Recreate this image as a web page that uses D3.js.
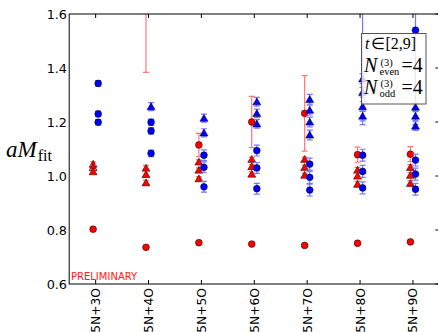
<!DOCTYPE html>
<html>
<head>
<meta charset="utf-8">
<script src="https://cdn.jsdelivr.net/npm/d3@7"></script>
<style>
  html, body { margin: 0; padding: 0; background: #fff; }
  svg { display: block; }
</style>
</head>
<body>
<div id="chart"></div>
<script>
// categories on the x axis
const categories = ["5N+3O", "5N+4O", "5N+5O", "5N+6O", "5N+7O", "5N+8O", "5N+9O"];
const yTicks = [0.6, 0.8, 1.0, 1.2, 1.4, 1.6];

// red circles (lowest level and excited level)
const redLow = [0.803, 0.736, 0.753, 0.748, 0.743, 0.751, 0.756];
const redLowErr = [0.004, 0.004, 0.004, 0.004, 0.004, 0.005, 0.005];
const redHigh = [null, 1.72, 1.115, 1.20, 1.232, 1.079, 1.081];
const redHighErr = [null, 0.336, 0.043, 0.095, 0.14, 0.028, 0.028];

// red triangles
const redTri1 = [1.044, 1.029, 1.052, 1.062, 1.062, 1.022, 1.032];
const redTri2 = [1.032, 1.006, 1.022, 1.035, 1.032, 1.000, 1.003];
const redTri3 = [1.016, 0.975, 0.990, 1.007, 1.003, 0.970, 0.973];
const redTriErr = [0.008, 0.010, 0.008, 0.008, 0.008, 0.010, 0.010];

// blue circles
const blueCirc1 = [1.343, 1.199, 1.077, 1.094, 1.044, 1.077, 1.059];
const blueCirc2 = [1.230, 1.167, 1.032, 1.030, 0.995, 1.017, 1.007];
const blueCirc3 = [1.199, 1.084, 0.960, 0.953, 0.948, 0.956, 0.951];
const blueCircErr = [0.010, 0.012, 0.020, 0.020, 0.022, 0.022, 0.022];
const blueHigh = [null, null, null, null, null, 1.75, 1.54];
const blueHighErr = [null, null, null, null, null, 0.56, 0.35];

// blue triangles
const blueTri1 = [null, 1.257, 1.214, 1.275, 1.284, 1.36, 1.255];
const blueTri2 = [null, null, 1.160, 1.232, 1.244, 1.31, 1.222];
const blueTri3 = [null, null, null, 1.193, 1.200, 1.257, 1.185];
const blueTri4 = [null, null, null, null, 1.152, 1.222, null];
const blueTriErr = [0.015, 0.015, 0.015, 0.016, 0.018, 0.018, 0.016];

const W = 438, H = 332;
const pLeft = 69.2, pRight = 439.4, pTop = 14, pBottom = 284;

const svg = d3.select("#chart").append("svg")
  .attr("width", W).attr("height", H);

const x = d3.scaleLinear().domain([2.5, 9.5]).range([pLeft, pRight]);
const y = d3.scaleLinear().domain([0.6, 1.6]).range([pBottom, pTop]);

svg.append("clipPath").attr("id", "plotclip")
  .append("rect")
  .attr("x", pLeft).attr("y", pTop)
  .attr("width", pRight - pLeft).attr("height", pBottom - pTop);

const plot = svg.append("g").attr("clip-path", "url(#plotclip)");

const RED = "#ff0000", BLUE = "#0000ff";
const RED_ERR = "#ff7777", BLUE_ERR = "#7777ff";
const tri = d3.symbol(d3.symbolTriangle).size(28);

function drawSeries(values, errs, side, shape, fill, errColor) {
  const pts = values
    .map((v, i) => ({ v, e: errs[i], i }))
    .filter(d => d.v !== null);
  const g = plot.append("g");
  const cx = d => x(d.i + 3 + side);

  g.selectAll("line.bar").data(pts).enter().append("line")
    .attr("x1", cx).attr("x2", cx)
    .attr("y1", d => y(d.v - d.e)).attr("y2", d => y(d.v + d.e))
    .attr("stroke", errColor).attr("stroke-width", 1.2);
  [-1, 1].forEach(s => {
    g.selectAll(null).data(pts).enter().append("line")
      .attr("x1", d => cx(d) - 3).attr("x2", d => cx(d) + 3)
      .attr("y1", d => y(d.v + s * d.e)).attr("y2", d => y(d.v + s * d.e))
      .attr("stroke", errColor).attr("stroke-width", 1.2);
  });

  if (shape === "circle") {
    g.selectAll("circle").data(pts).enter().append("circle")
      .attr("cx", cx).attr("cy", d => y(d.v)).attr("r", 3.4)
      .attr("fill", fill).attr("stroke", "#000").attr("stroke-width", 0.5);
  } else {
    g.selectAll("path.m").data(pts).enter().append("path")
      .attr("d", tri)
      .attr("transform", d => `translate(${cx(d)},${y(d.v) + 0.8})`)
      .attr("fill", fill).attr("stroke", "#000").attr("stroke-width", 0.5);
  }
}

const rs = -0.048, bs = 0.048;
drawSeries(redHigh, redHighErr, rs, "circle", RED, RED_ERR);
drawSeries(redTri1, redTriErr, rs, "tri", RED, RED_ERR);
drawSeries(redTri2, redTriErr, rs, "tri", RED, RED_ERR);
drawSeries(redTri3, redTriErr, rs, "tri", RED, RED_ERR);
drawSeries(redLow, redLowErr, rs, "circle", RED, RED_ERR);
drawSeries(blueHigh, blueHighErr, bs, "circle", BLUE, BLUE_ERR);
drawSeries(blueTri1, blueTriErr, bs, "tri", BLUE, BLUE_ERR);
drawSeries(blueTri2, blueTriErr, bs, "tri", BLUE, BLUE_ERR);
drawSeries(blueTri3, blueTriErr, bs, "tri", BLUE, BLUE_ERR);
drawSeries(blueTri4, blueTriErr, bs, "tri", BLUE, BLUE_ERR);
drawSeries(blueCirc1, blueCircErr, bs, "circle", BLUE, BLUE_ERR);
drawSeries(blueCirc2, blueCircErr, bs, "circle", BLUE, BLUE_ERR);
drawSeries(blueCirc3, blueCircErr, bs, "circle", BLUE, BLUE_ERR);

// frame
svg.append("rect")
  .attr("x", pLeft).attr("y", pTop)
  .attr("width", pRight - pLeft).attr("height", pBottom - pTop)
  .attr("fill", "none").attr("stroke", "#000").attr("stroke-width", 1);

// x ticks (inward, top and bottom) and rotated labels
const xs = categories.map((c, i) => ({ c, p: x(i + 3) }));
svg.append("g").selectAll("line").data(xs).enter().append("line")
  .attr("x1", d => d.p).attr("x2", d => d.p)
  .attr("y1", pBottom).attr("y2", pBottom - 4)
  .attr("stroke", "#000");
svg.append("g").selectAll("line").data(xs).enter().append("line")
  .attr("x1", d => d.p).attr("x2", d => d.p)
  .attr("y1", pTop).attr("y2", pTop + 4)
  .attr("stroke", "#000");
svg.append("g").selectAll("text").data(xs).enter().append("text")
  .attr("transform", d => `translate(${d.p},288) rotate(-90)`)
  .attr("dy", "0.36em")
  .attr("text-anchor", "end")
  .attr("font-family", "DejaVu Sans")
  .attr("font-size", 12.3)
  .text(d => d.c);

// y ticks (right side inward) and labels
svg.append("g").selectAll("line").data(yTicks).enter().append("line")
  .attr("x1", pRight).attr("x2", pRight - 4)
  .attr("y1", d => y(d)).attr("y2", d => y(d))
  .attr("stroke", "#000");
svg.append("g").selectAll("text").data(yTicks).enter().append("text")
  .attr("x", 67).attr("y", d => y(d))
  .attr("dy", "0.36em")
  .attr("text-anchor", "end")
  .attr("font-family", "DejaVu Sans")
  .attr("font-size", 12.8)
  .text(d => d3.format(".1f")(d));

// y axis label
const yl = svg.append("text")
  .attr("x", 6).attr("y", 157)
  .attr("font-family", "Liberation Serif")
  .attr("font-size", 23);
yl.append("tspan").attr("font-style", "italic").text("aM");
yl.append("tspan").attr("font-size", 16).attr("dy", 4).attr("dx", 1).text("fit");

// PRELIMINARY
svg.append("text")
  .attr("x", 71).attr("y", 280)
  .attr("font-family", "DejaVu Sans")
  .attr("font-size", 10)
  .attr("fill", "#ff2020")
  .text("PRELIMINARY");

// legend box
const lg = svg.append("g");
lg.append("rect")
  .attr("x", 361.5).attr("y", 33.5).attr("width", 64.5).attr("height", 70.5)
  .attr("fill", "#fff").attr("fill-opacity", 0.8)
  .attr("stroke", "#555").attr("stroke-width", 1);
const serif = "Liberation Serif";
lg.append("text")
  .attr("x", 365).attr("y", 48.5)
  .attr("font-family", serif).attr("font-size", 16)
  .call(t => {
    t.append("tspan").attr("font-style", "italic").text("t");
    t.append("tspan").attr("dx", 2).text("\u2208[2,9]");
  });
function nLine(yb, sub) {
  lg.append("text").attr("x", 364).attr("y", yb)
    .attr("font-family", serif).attr("font-size", 20).attr("font-style", "italic")
    .text("N");
  lg.append("text").attr("x", 380.5).attr("y", yb - 6.5)
    .attr("font-family", serif).attr("font-size", 10.5)
    .text("(3)");
  lg.append("text").attr("x", 379.5).attr("y", yb + 3)
    .attr("font-family", serif).attr("font-size", 10.5)
    .text(sub);
  lg.append("text").attr("x", 401.5).attr("y", yb)
    .attr("font-family", serif).attr("font-size", 20)
    .text("=4");
}
nLine(72, "even");
nLine(93.5, "odd");
</script>
</body>
</html>
